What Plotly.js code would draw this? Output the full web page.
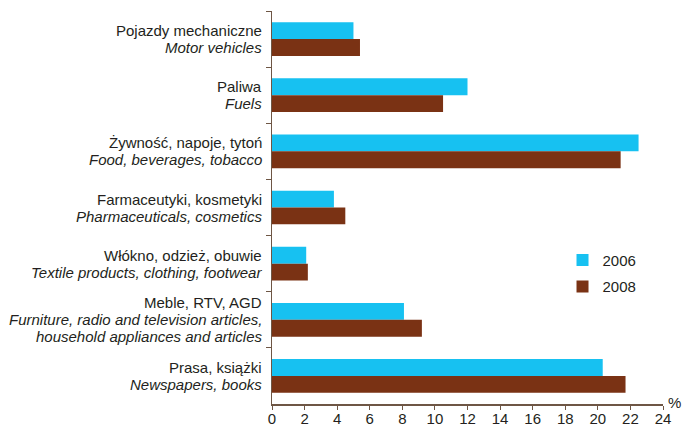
<!DOCTYPE html>
<html>
<head>
<meta charset="utf-8">
<script src="https://cdn.plot.ly/plotly-3.0.1.min.js"></script>
<style>html,body{margin:0;padding:0;background:#fff;}#chart{width:683px;height:425px;}</style>
</head>
<body>
<div id="chart"></div>
<script>
var categoriesPL = ["Pojazdy mechaniczne", "Paliwa", "Żywność, napoje, tytoń", "Farmaceutyki, kosmetyki", "Włókno, odzież, obuwie", "Meble, RTV, AGD", "Prasa, książki"];
var categoriesEN = [["Motor vehicles"], ["Fuels"], ["Food, beverages, tobacco"], ["Pharmaceuticals, cosmetics"], ["Textile products, clothing, footwear"], ["Furniture, radio and television articles,", "household appliances and articles"], ["Newspapers, books"]];
var values2006 = [5.0, 12.0, 22.5, 3.8, 2.1, 8.1, 20.3];
var values2008 = [5.4, 10.5, 21.4, 4.5, 2.2, 9.2, 21.7];
var xTicks = [0, 2, 4, 6, 8, 10, 12, 14, 16, 18, 20, 22, 24];

var traces = [
  {type: "bar", orientation: "h", name: "2006", y: categoriesPL, x: values2006, marker: {color: "#17c1f1"}, legendgroup: "a"},
  {type: "bar", orientation: "h", name: "2008", y: categoriesPL, x: values2008, marker: {color: "#7a3214"}, legendgroup: "b"}
];

var lineGap = 17;
var annotations = [];
categoriesPL.forEach(function (cat, i) {
  var lines = [{t: cat, it: false}].concat(categoriesEN[i].map(function (e) { return {t: e, it: true}; }));
  var n = lines.length;
  lines.forEach(function (ln, k) {
    annotations.push({
      text: ln.it ? "<i>" + ln.t + "</i>" : ln.t,
      xref: "paper", yref: "y", x: 0, y: cat,
      xanchor: "right", yanchor: "middle", xshift: -9,
      yshift: ((n - 1) / 2 - k) * lineGap,
      showarrow: false, font: {size: 15}, borderpad: 0
    });
  });
});
annotations.push({text: "%", xref: "paper", yref: "paper", x: 1, y: 0, xanchor: "left", yanchor: "middle", xshift: 3, yshift: 2, showarrow: false, font: {size: 15}});

var axisColor = "#6e5645";
var layout = {
  width: 683, height: 425,
  margin: {l: 272, r: 20, t: 11, b: 21},
  paper_bgcolor: "#fff", plot_bgcolor: "#fff",
  font: {family: "Liberation Sans, Arial, sans-serif", size: 15, color: "#231f20"},
  barmode: "group", bargap: 0.4, bargroupgap: 0,
  showlegend: true,
  legend: {x: 0.743, y: 0.408, xanchor: "left", yanchor: "top", traceorder: "grouped", tracegroupgap: 4, font: {size: 15}, bgcolor: "rgba(0,0,0,0)"},
  xaxis: {range: [0, 24], tickvals: xTicks, ticks: "outside", ticklen: 4, tickcolor: axisColor, showline: true, linecolor: axisColor, linewidth: 1.5, showgrid: false, zeroline: false, fixedrange: true, tickfont: {size: 15}, ticklabelstandoff: -4},
  yaxis: {autorange: "reversed", type: "category", tickson: "boundaries", ticks: "outside", ticklen: 5, tickcolor: axisColor, showline: true, linecolor: axisColor, linewidth: 1.5, showgrid: false, zeroline: false, showticklabels: false},
  annotations: annotations
};

Plotly.newPlot("chart", traces, layout, {displayModeBar: false, staticPlot: true});
</script>
</body>
</html>
